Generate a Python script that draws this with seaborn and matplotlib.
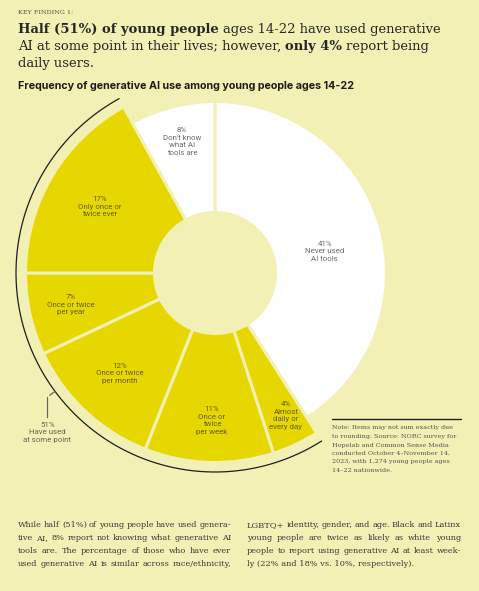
import numpy as np
import matplotlib
matplotlib.use("Agg")
import matplotlib.pyplot as plt
from matplotlib.lines import Line2D
import seaborn as sns

# ---------------- data ----------------
categories = ["Never used\nAI tools", "Almost\ndaily or\nevery day", "Once or\ntwice\nper week",
              "Once or twice\nper month", "Once or twice\nper year", "Only once or\ntwice ever",
              "Don't know\nwhat AI\ntools are"]
shares = [41, 4, 11, 12, 7, 17, 8]
ever_used = [False, True, True, True, True, True, False]
ever_used_total = 51
ever_used_label = "Have used\nat some point"

kicker = "KEY FINDING 1:"
headline = [
    [("Half (51%) of young people", "bold"), ("ages 14-22 have used generative", "normal")],
    [("AI at some point in their lives; however,", "normal"), ("only 4%", "bold"), ("report being", "normal")],
    [("daily users.", "normal")],
]
subtitle = "Frequency of generative AI use among young people ages 14-22"
note_lines = ["Note: Items may not sum exactly due", "to rounding. Source: NORC survey for",
              "Hopelab and Common Sense Media", "conducted October 4\u2013November 14,",
              "2023, with 1,274 young people ages", "14\u201322 nationwide."]
body_left = ["While half (51%) of young people have used genera-",
             "tive AI, 8% report not knowing what generative AI",
             "tools are. The percentage of those who have ever",
             "used generative AI is similar across race/ethnicity,"]
body_right = ["LGBTQ+ identity, gender, and age. Black and Latinx",
              "young people are twice as likely as white young",
              "people to report using generative AI at least week-",
              "ly (22% and 18% vs. 10%, respectively)."]

# ---------------- layout / style ----------------
BG = "#F3F0B5"
YEL = "#E6D700"
W, H = 479, 591
label_pos = [(78.7, 112), (153.5, 159), (181.2, 147.5), (223.5, 138),
             (257.5, 147.5), (299.9, 132.6), (345.9, 135.6)]

sns.set_theme(style="white", rc={"figure.facecolor": BG, "savefig.facecolor": BG,
                                 "axes.facecolor": "none"})
fig = plt.figure(figsize=(W / 100, H / 100), dpi=100)
renderer = fig.canvas.get_renderer()


def fx(x):
    return x / W


def fy(y):
    return 1 - y / H


def text_w(s, **kw):
    t = fig.text(0, 0, s, **kw)
    w = t.get_window_extent(renderer).width
    t.remove()
    return w


def fit_size(s, target, base=10, **kw):
    return base * target / text_w(s, fontsize=base, **kw)


# ---------------- donut ----------------
cx, cy, R = 215, 273, 206
ax = fig.add_axes([fx(cx - R), (H - cy - R) / H, 2 * R / W, 2 * R / H], projection="polar")
ax.set_theta_zero_location("N")
ax.set_theta_direction(-1)
ax.set_ylim(0, R)
ax.set_axis_off()
ax.patch.set_alpha(0)

frac = np.array(shares, dtype=float) / sum(shares)
widths = frac * 2 * np.pi
starts = np.concatenate([[0], np.cumsum(widths)[:-1]])
inner = 60.5
outer = np.where(ever_used, 189.5, 171.5)
colors = [YEL if e else "white" for e in ever_used]
ax.bar(starts, outer - inner, width=widths, bottom=inner, align="edge",
       color=colors, edgecolor=BG, linewidth=2.2)

LBL = dict(fontsize=5.7, family="Roboto", color="#262626", alpha=0.68, linespacing=1.3)
for (tdeg, r), cat, sh in zip(label_pos, categories, shares):
    ax.text(np.deg2rad(tdeg), r, f"{sh}%\n{cat}", ha="center", va="center", **LBL)

# arc around the "ever used" group
idx = [i for i, e in enumerate(ever_used) if e]
t0 = starts[idx[0]]
t1 = starts[idx[-1]] + widths[idx[-1]]
th = np.linspace(t0, t1, 300)
ax.plot(th, np.full_like(th, 199), color="#1e1e1e", lw=0.9)

# tick + label for 51%
tick_t = np.deg2rad(233.5)
ax.plot([tick_t, tick_t], [199, 208.5], color="#666666", lw=0.9)
ex, ey = ax.transData.transform((tick_t, 208.5))
fig.add_artist(Line2D([ex / W, ex / W], [ey / H, fy(417)], transform=fig.transFigure,
                      color="#666666", lw=0.9))
fig.text(ex / W, fy(432.5), f"{ever_used_total}%\n{ever_used_label}", ha="center", va="center",
         **LBL)

# ---------------- texts ----------------
SERIF = "DejaVu Serif"
ks = fit_size(kicker, 54, family=SERIF)
fig.text(fx(18), fy(13), kicker, fontsize=ks, family=SERIF, color="#555555", va="center")

# headline with mixed weights
w_norm = text_w(headline[0][0][0], fontsize=10, family=SERIF, weight="bold") + \
    text_w(" " + headline[0][1][0], fontsize=10, family=SERIF)
hs = 10 * 427 / w_norm
space = text_w("a a", fontsize=hs, family=SERIF) - text_w("aa", fontsize=hs, family=SERIF)
for li, runs in enumerate(headline):
    x = 18
    yb = fy(33 + 17 * li)
    for s, wgt in runs:
        t = fig.text(fx(x), yb, s, fontsize=hs, family=SERIF, weight=wgt,
                     color="#262626", va="baseline")
        x += t.get_window_extent(renderer).width + space

ss = fit_size(subtitle, 337, family="Inter", weight="bold")
fig.text(fx(18), fy(86), subtitle, fontsize=ss, family="Inter", weight="bold",
         color="#1c1c1c", va="center")

# note
fig.add_artist(Line2D([fx(332), fx(461)], [fy(419), fy(419)], transform=fig.transFigure,
                      color="#1e1e1e", lw=1.0))
ns = fit_size(note_lines[0], 120, family=SERIF)
for i, ln in enumerate(note_lines):
    fig.text(fx(332), fy(428 + 8.5 * i), ln, fontsize=ns, family=SERIF, color="#555555",
             va="center")

# body (justified)
bs = float(np.mean([fit_size(ln, 213, family=SERIF) for ln in body_left + body_right[:-1]]))


def draw_justified(lines, x0, width, last_ragged):
    for i, ln in enumerate(lines):
        y = fy(525 + 13 * i)
        words = ln.split(" ")
        if last_ragged and i == len(lines) - 1:
            fig.text(fx(x0), y, ln, fontsize=bs, family=SERIF, color="#3a3a3a", va="center")
            continue
        ws = [text_w(w, fontsize=bs, family=SERIF) for w in words]
        gap = (width - sum(ws)) / (len(words) - 1)
        x = x0
        for w, ww in zip(words, ws):
            fig.text(fx(x), y, w, fontsize=bs, family=SERIF, color="#3a3a3a", va="center")
            x += ww + gap


draw_justified(body_left, 18, 213, False)
draw_justified(body_right, 247, 214, True)

fig.savefig("out.png", dpi=100, facecolor=BG)
